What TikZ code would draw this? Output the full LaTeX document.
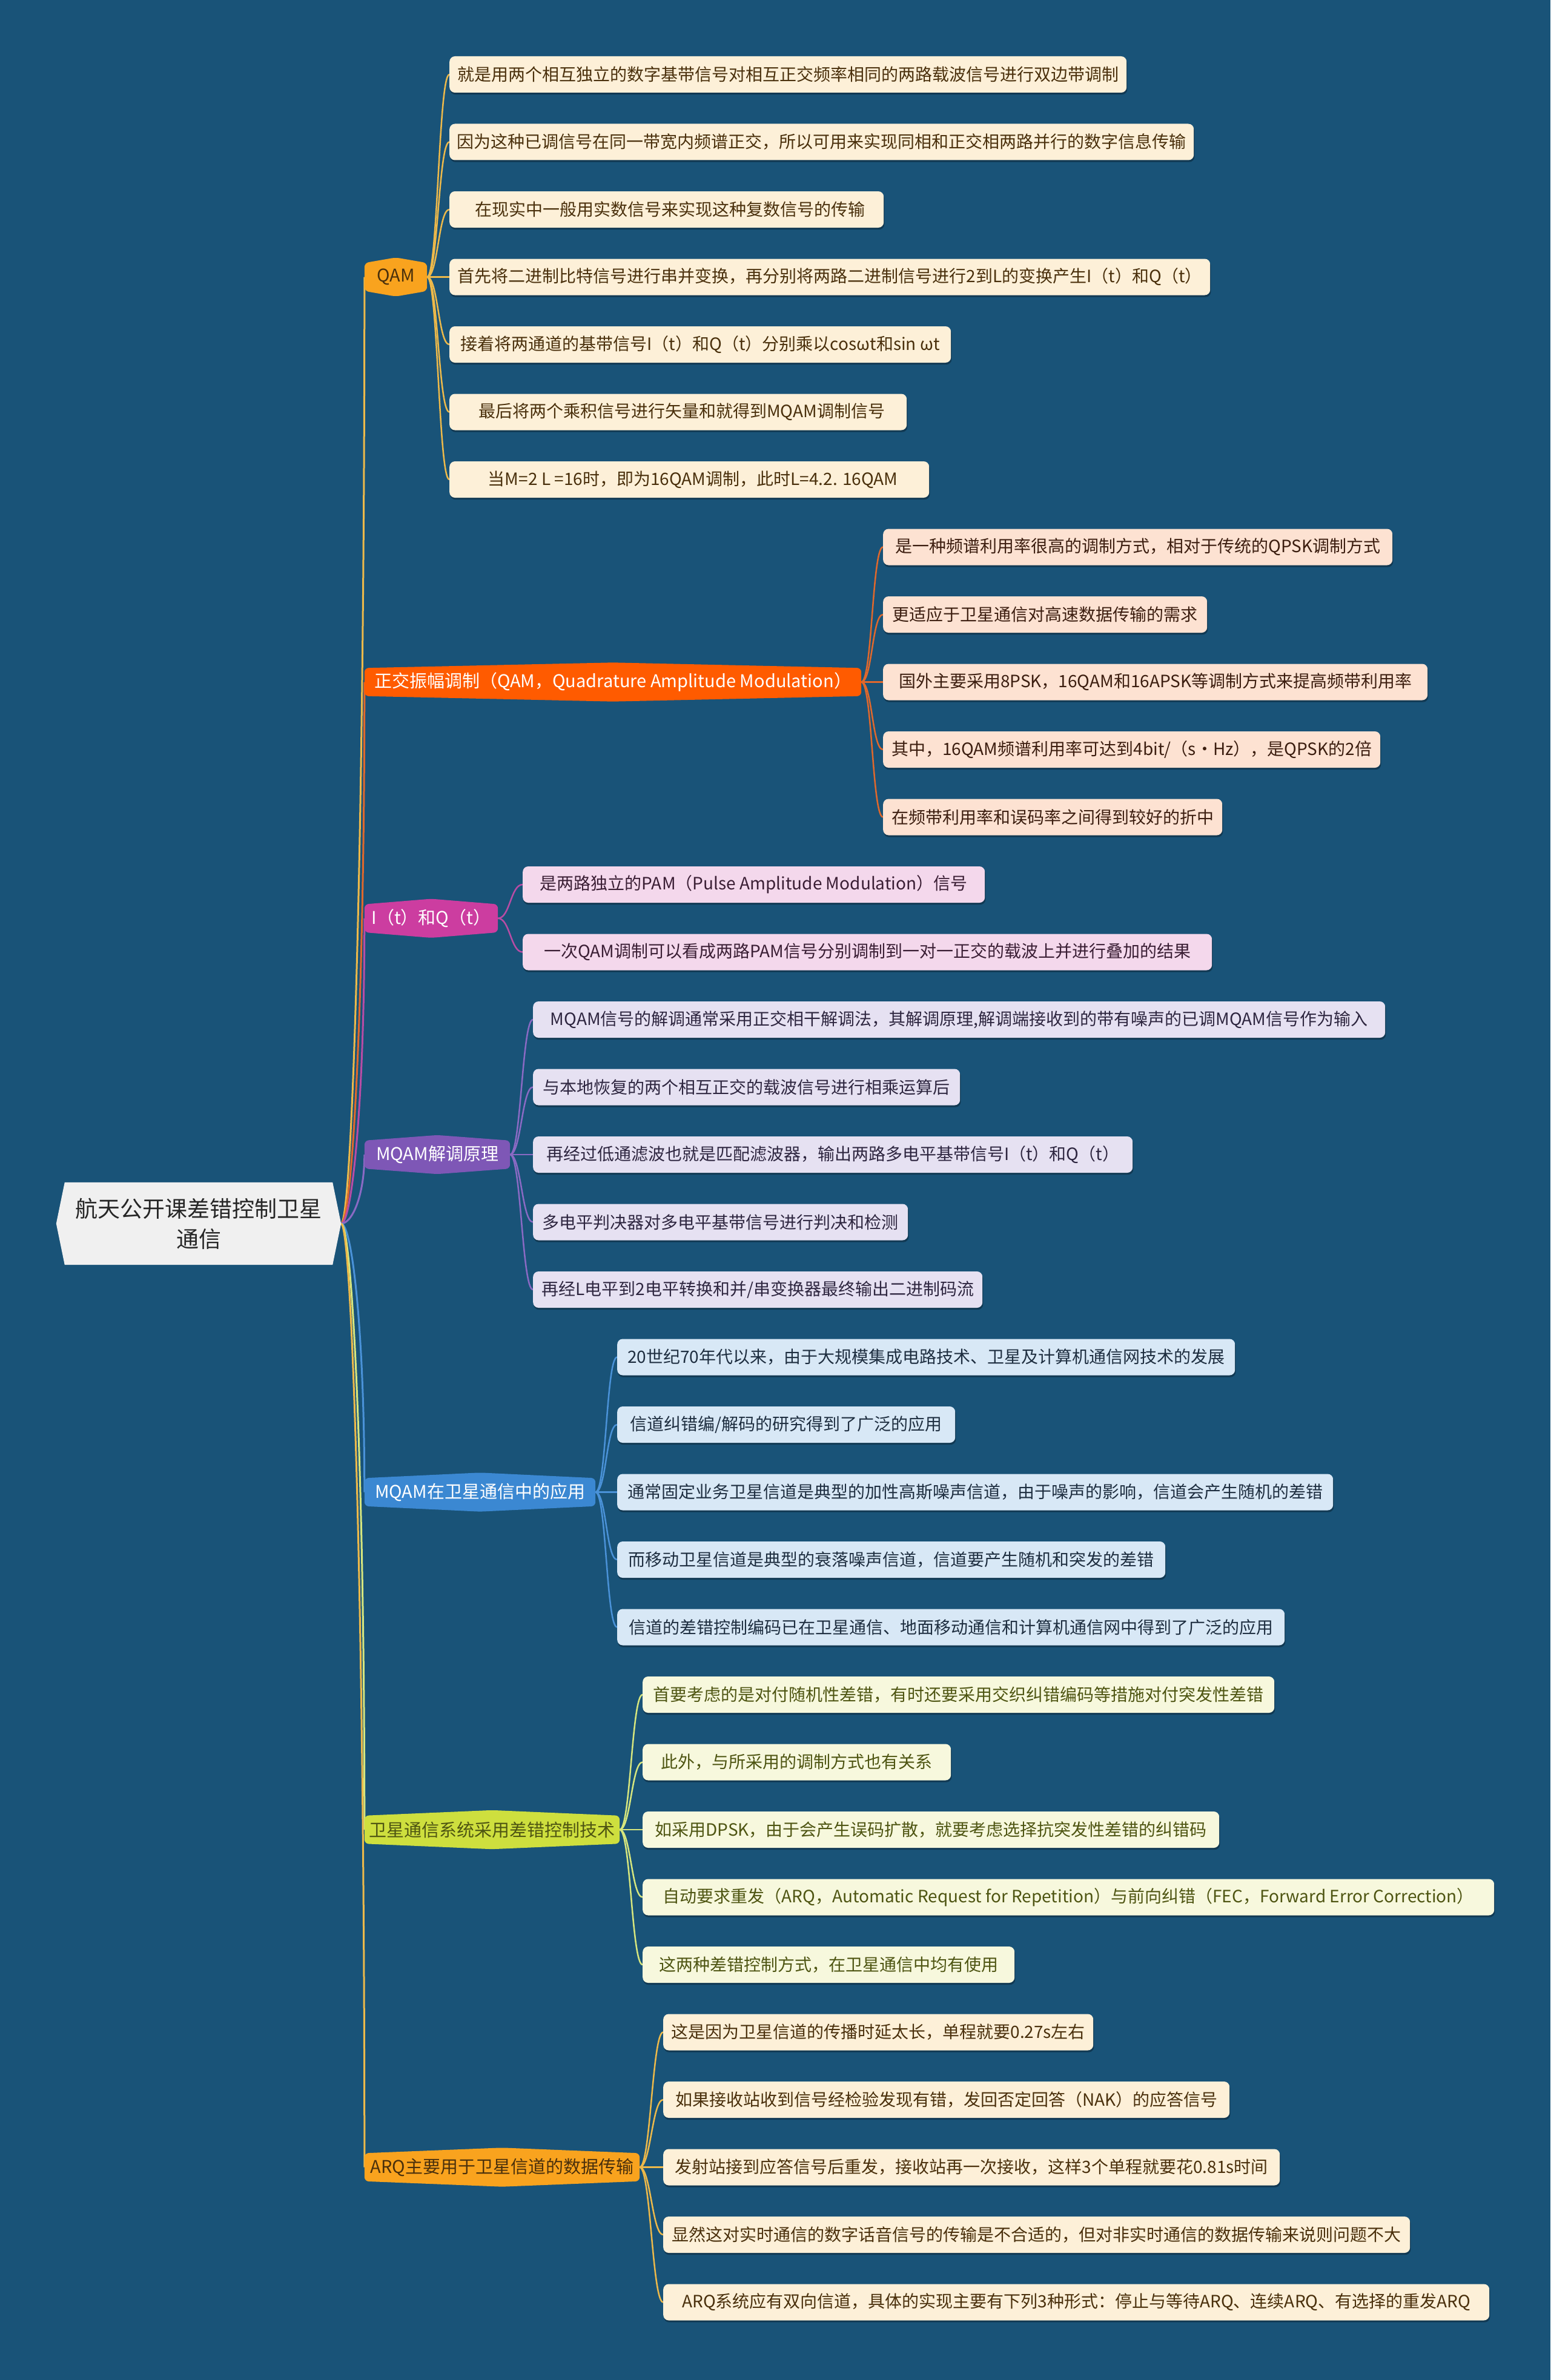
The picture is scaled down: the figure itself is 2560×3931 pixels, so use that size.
\documentclass[tikz,border=0pt]{standalone}
\usepackage{fontspec}
\setmainfont{Noto Sans CJK SC}
\usetikzlibrary{calc,backgrounds}
\definecolor{bgc}{HTML}{195378}
\definecolor{rootfill}{HTML}{F0F0F0}
\definecolor{cA}{HTML}{F9A31E}\definecolor{lA}{HTML}{EDB94A}\definecolor{fA}{HTML}{FDF0D8}\definecolor{tA}{HTML}{4A300C}
\definecolor{cB}{HTML}{FF5B00}\definecolor{lB}{HTML}{E0682C}\definecolor{fB}{HTML}{FDE2D2}\definecolor{tB}{HTML}{3C1E10}
\definecolor{cC}{HTML}{CC3DA0}\definecolor{lC}{HTML}{B84CA5}\definecolor{fC}{HTML}{F4D8EC}\definecolor{tC}{HTML}{3A1E34}
\definecolor{cD}{HTML}{7E57B6}\definecolor{lD}{HTML}{8A6AC4}\definecolor{fD}{HTML}{E6E1F2}\definecolor{tD}{HTML}{2E2640}
\definecolor{cE}{HTML}{3B88D2}\definecolor{lE}{HTML}{4A92D8}\definecolor{fE}{HTML}{D8E8F6}\definecolor{tE}{HTML}{1E2E40}
\definecolor{cF}{HTML}{CEDF3E}\definecolor{lF}{HTML}{D6E67E}\definecolor{fF}{HTML}{F7F8DD}\definecolor{tF}{HTML}{4E5512}
\definecolor{cG}{HTML}{F9A31E}\definecolor{lG}{HTML}{EDB94A}\definecolor{fG}{HTML}{FDF0D8}\definecolor{tG}{HTML}{4A300C}
\newcommand\hexfill[2]{\fill[#2,rounded corners=7pt] (#1.north west) -- ($(#1.north)+(0,-9)$) -- (#1.north east) -- (#1.south east) -- ($(#1.south)+(0,9)$) -- (#1.south west) -- cycle;}
\tikzset{
  rootn/.style={minimum width=470pt,minimum height=136pt,align=center,text=black!85,font=\fontsize{37}{50}\selectfont},
  mainn/.style={minimum height=46pt,inner xsep=4pt,inner ysep=0pt,font=\fontsize{29}{33}\selectfont},
  leaf/.style={anchor=west,minimum height=60pt,inner xsep=10pt,inner ysep=0pt,rounded corners=9pt,font=\fontsize{28}{34}\selectfont},
  mainline/.style={line width=3pt},
  leafline/.style={line width=2.5pt},
}
\begin{document}
\begin{tikzpicture}[x=1pt,y=-1pt]
\useasboundingbox (0,0) rectangle (2560,3931);
% root
\node[rootn] (root) at (328,2021) {航天公开课差错控制卫星\\通信};
% level 1
\node[mainn,minimum width=103pt,text=tA] (n1) at (653.5,457.5) {QAM};
\node[mainn,minimum width=820pt,text=white] (n2) at (1012,1126.5) {正交振幅调制（QAM，Quadrature Amplitude Modulation）};
\node[mainn,minimum width=220pt,text=white] (n3) at (712,1516.75) {I（t）和Q（t）};
\node[mainn,minimum width=240pt,text=white] (n4) at (722,1907) {MQAM解调原理};
\node[mainn,minimum width=381pt,text=white] (n5) at (792.5,2464.5) {MQAM在卫星通信中的应用};
\node[mainn,minimum width=421pt,text=tF] (n6) at (812.5,3022) {卫星通信系统采用差错控制技术};
\node[mainn,minimum width=454pt,text=tG] (n7) at (829,3579.5) {ARQ主要用于卫星信道的数据传输};
% QAM leaves
\node[leaf,fill=fA,text=tA,minimum width=1118pt] (l0) at (742,123) {就是用两个相互独立的数字基带信号对相互正交频率相同的两路载波信号进行双边带调制};
\node[leaf,fill=fA,text=tA,minimum width=1229pt] (l1) at (742,234.5) {因为这种已调信号在同一带宽内频谱正交，所以可用来实现同相和正交相两路并行的数字信息传输};
\node[leaf,fill=fA,text=tA,minimum width=717pt] (l2) at (742,346) {\hspace{12pt}在现实中一般用实数信号来实现这种复数信号的传输};
\node[leaf,fill=fA,text=tA,minimum width=1256pt] (l3) at (742,457.5) {首先将二进制比特信号进行串并变换，再分别将两路二进制信号进行2到L的变换产生I（t）和Q（t）};
\node[leaf,fill=fA,text=tA,minimum width=828pt] (l4) at (742,569) {接着将两通道的基带信号I（t）和Q（t）分别乘以cosωt和sin ωt};
\node[leaf,fill=fA,text=tA,minimum width=755pt] (l5) at (742,680.5) {\hspace{12pt}最后将两个乘积信号进行矢量和就得到MQAM调制信号};
\node[leaf,fill=fA,text=tA,minimum width=792pt] (l6) at (742,792) {\hspace{12pt}当M=2 L =16时，即为16QAM调制，此时L=4.2. 16QAM};
% 正交 leaves
\node[leaf,fill=fB,text=tB,minimum width=841pt] (l7) at (1458,903.5) {是一种频谱利用率很高的调制方式，相对于传统的QPSK调制方式};
\node[leaf,fill=fB,text=tB,minimum width=535pt] (l8) at (1458,1015) {更适应于卫星通信对高速数据传输的需求};
\node[leaf,fill=fB,text=tB,minimum width=899pt] (l9) at (1458,1126.5) {国外主要采用8PSK，16QAM和16APSK等调制方式来提高频带利用率};
\node[leaf,fill=fB,text=tB,minimum width=821pt] (l10) at (1458,1238) {其中，16QAM频谱利用率可达到4bit/（s·Hz），是QPSK的2倍};
\node[leaf,fill=fB,text=tB,minimum width=560pt] (l11) at (1458,1349.5) {在频带利用率和误码率之间得到较好的折中};
% I(t) leaves
\node[leaf,fill=fC,text=tC,minimum width=763pt] (l12) at (863,1461) {是两路独立的PAM（Pulse Amplitude Modulation）信号};
\node[leaf,fill=fC,text=tC,minimum width=1138pt] (l13) at (863,1572.5) {一次QAM调制可以看成两路PAM信号分别调制到一对一正交的载波上并进行叠加的结果};
% 解调 leaves
\node[leaf,fill=fD,text=tD,minimum width=1407pt] (l14) at (880,1684) {MQAM信号的解调通常采用正交相干解调法，其解调原理,解调端接收到的带有噪声的已调MQAM信号作为输入};
\node[leaf,fill=fD,text=tD,minimum width=705pt] (l15) at (880,1795.5) {与本地恢复的两个相互正交的载波信号进行相乘运算后};
\node[leaf,fill=fD,text=tD,minimum width=990pt] (l16) at (880,1907) {再经过低通滤波也就是匹配滤波器，输出两路多电平基带信号I（t）和Q（t）};
\node[leaf,fill=fD,text=tD,minimum width=619pt] (l17) at (880,2018.5) {多电平判决器对多电平基带信号进行判决和检测};
\node[leaf,fill=fD,text=tD,minimum width=742pt] (l18) at (880,2130) {再经L电平到2电平转换和并/串变换器最终输出二进制码流};
% 应用 leaves
\node[leaf,fill=fE,text=tE,minimum width=1020pt] (l19) at (1019,2241.5) {20世纪70年代以来，由于大规模集成电路技术、卫星及计算机通信网技术的发展};
\node[leaf,fill=fE,text=tE,minimum width=558pt] (l20) at (1019,2353) {信道纠错编/解码的研究得到了广泛的应用};
\node[leaf,fill=fE,text=tE,minimum width=1182pt] (l21) at (1019,2464.5) {通常固定业务卫星信道是典型的加性高斯噪声信道，由于噪声的影响，信道会产生随机的差错};
\node[leaf,fill=fE,text=tE,minimum width=905pt] (l22) at (1019,2576) {而移动卫星信道是典型的衰落噪声信道，信道要产生随机和突发的差错};
\node[leaf,fill=fE,text=tE,minimum width=1102pt] (l23) at (1019,2687.5) {信道的差错控制编码已在卫星通信、地面移动通信和计算机通信网中得到了广泛的应用};
% 卫星 leaves
\node[leaf,fill=fF,text=tF,minimum width=1043pt] (l24) at (1061,2799) {首要考虑的是对付随机性差错，有时还要采用交织纠错编码等措施对付突发性差错};
\node[leaf,fill=fF,text=tF,minimum width=509pt] (l25) at (1061,2910.5) {此外，与所采用的调制方式也有关系};
\node[leaf,fill=fF,text=tF,minimum width=952pt] (l26) at (1061,3022) {如采用DPSK，由于会产生误码扩散，就要考虑选择抗突发性差错的纠错码};
\node[leaf,fill=fF,text=tF,minimum width=1406pt] (l27) at (1061,3133.5) {自动要求重发（ARQ，Automatic Request for Repetition）与前向纠错（FEC，Forward Error Correction）};
\node[leaf,fill=fF,text=tF,minimum width=614pt] (l28) at (1061,3245) {这两种差错控制方式，在卫星通信中均有使用};
% ARQ leaves
\node[leaf,fill=fG,text=tG,minimum width=710pt] (l29) at (1095,3356.5) {这是因为卫星信道的传播时延太长，单程就要0.27s左右};
\node[leaf,fill=fG,text=tG,minimum width=935pt] (l30) at (1095,3468) {如果接收站收到信号经检验发现有错，发回否定回答（NAK）的应答信号};
\node[leaf,fill=fG,text=tG,minimum width=1018pt] (l31) at (1095,3579.5) {发射站接到应答信号后重发，接收站再一次接收，这样3个单程就要花0.81s时间};
\node[leaf,fill=fG,text=tG,minimum width=1233pt] (l32) at (1095,3691) {显然这对实时通信的数字话音信号的传输是不合适的，但对非实时通信的数据传输来说则问题不大};
\node[leaf,fill=fG,text=tG,minimum width=1364pt] (l33) at (1095,3802.5) {ARQ系统应有双向信道，具体的实现主要有下列3种形式：停止与等待ARQ、连续ARQ、有选择的重发ARQ};

\begin{scope}[on background layer]
\fill[bgc] (0,0) rectangle (2560,3931);
% main connectors
\foreach \n/\c in {n1/lA,n2/lB,n3/lC,n4/lD,n5/lE,n6/lF,n7/lG}{
  \draw[mainline,\c] (root.east) .. controls ($(root.east)+(18,0)$) and ($(\n.west)!0.6!(\n.west |- root.east)$) .. (\n.west);
}
% leaf connectors
\foreach \k in {0,...,6}{\draw[leafline,lA] (n1.east) .. controls ($(n1.east)+(18,0)$) and ($(l\k.west)+(-18,0)$) .. (l\k.west);}
\foreach \k in {7,...,11}{\draw[leafline,lB] (n2.east) .. controls ($(n2.east)+(18,0)$) and ($(l\k.west)+(-18,0)$) .. (l\k.west);}
\foreach \k in {12,13}{\draw[leafline,lC] (n3.east) .. controls ($(n3.east)+(20,0)$) and ($(l\k.west)+(-20,0)$) .. (l\k.west);}
\foreach \k in {14,...,18}{\draw[leafline,lD] (n4.east) .. controls ($(n4.east)+(18,0)$) and ($(l\k.west)+(-18,0)$) .. (l\k.west);}
\foreach \k in {19,...,23}{\draw[leafline,lE] (n5.east) .. controls ($(n5.east)+(18,0)$) and ($(l\k.west)+(-18,0)$) .. (l\k.west);}
\foreach \k in {24,...,28}{\draw[leafline,lF] (n6.east) .. controls ($(n6.east)+(18,0)$) and ($(l\k.west)+(-18,0)$) .. (l\k.west);}
\foreach \k in {29,...,33}{\draw[leafline,lG] (n7.east) .. controls ($(n7.east)+(18,0)$) and ($(l\k.west)+(-18,0)$) .. (l\k.west);}
% leaf shadows
\foreach \k in {0,...,33}{\fill[black,opacity=0.3,rounded corners=9pt] ($(l\k.north west)+(1,3)$) rectangle ($(l\k.south east)+(1,3)$);}
% root shape
\fill[rootfill] ($(root.north west)+(14,0)$) -- ($(root.north east)+(-14,0)$) -- (root.east) -- ($(root.south east)+(-14,0)$) -- ($(root.south west)+(14,0)$) -- (root.west) -- cycle;
% level-1 shapes
\hexfill{n1}{cA}
\hexfill{n2}{cB}
\hexfill{n3}{cC}
\hexfill{n4}{cD}
\hexfill{n5}{cE}
\hexfill{n6}{cF}
\hexfill{n7}{cG}
\end{scope}
\end{tikzpicture}
\end{document}
